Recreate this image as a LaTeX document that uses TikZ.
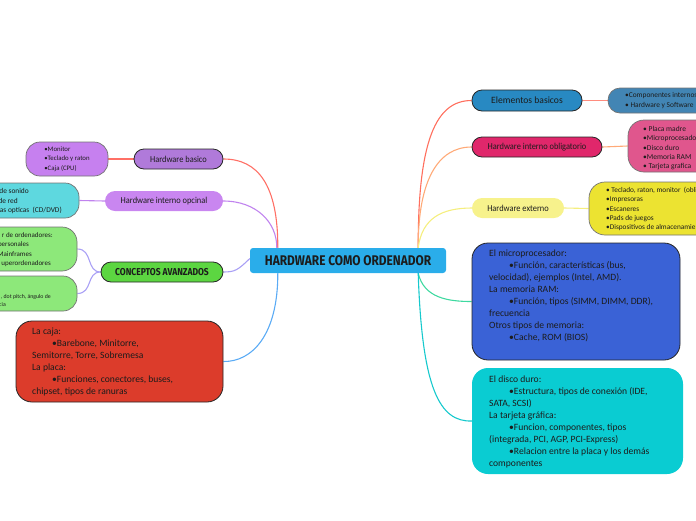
\documentclass[tikz,border=0pt]{standalone}
\usepackage{fontspec}
\setmainfont{Carlito}
\newfontfamily\headfont[FakeStretch=0.85]{Fira Sans}
\newfontfamily\labfont[FakeStretch=0.92]{Carlito}
\usetikzlibrary{backgrounds}
\definecolor{cRoot}{HTML}{2AADEA}
\definecolor{cHwb}{HTML}{B07ADA}
\definecolor{cHwbc}{HTML}{C680EF}
\definecolor{cHwo}{HTML}{C986F0}
\definecolor{cHwoc}{HTML}{5ED8DF}
\definecolor{cConc}{HTML}{5CD641}
\definecolor{cConcc}{HTML}{8DE87A}
\definecolor{cCaja}{HTML}{DC3C2B}
\definecolor{cElem}{HTML}{2889C2}
\definecolor{cElemc}{HTML}{4285B4}
\definecolor{cHio}{HTML}{E0276B}
\definecolor{cHioc}{HTML}{E0568D}
\definecolor{cHext}{HTML}{F7F28C}
\definecolor{cHextc}{HTML}{ECE331}
\definecolor{cMicro}{HTML}{3A62D6}
\definecolor{cDisco}{HTML}{0ACCD2}
\definecolor{lRed}{HTML}{FF7066}
\definecolor{lPurple}{HTML}{C083EE}
\definecolor{lLav}{HTML}{A9A0F5}
\definecolor{lBlue}{HTML}{5AABF5}
\definecolor{lRed2}{HTML}{FF6F5E}
\definecolor{lOrange}{HTML}{FFAA78}
\definecolor{lYellow}{HTML}{F5EE7E}
\definecolor{lGreen}{HTML}{3ED9A0}
\definecolor{lTeal}{HTML}{16C9CD}
\definecolor{txt}{HTML}{1C1C1C}
\begin{document}
\begin{tikzpicture}[x=1pt,y=-1pt,
  pill/.style={rectangle, rounded corners=10pt, minimum height=20pt, inner sep=0pt,
    text=txt, font=\labfont\fontsize{9.1}{10}\selectfont},
  hard/.style={draw=black!85, line width=0.8pt},
  soft/.style={draw=black!55, line width=0.7pt},
  subbox/.style={rectangle, rounded corners=14pt, inner sep=0pt},
  bigbox/.style={rectangle, rounded corners=16pt, inner sep=0pt},
  small/.style={inner sep=0pt, text=txt, align=left, font=\fontsize{6.8}{9.5}\selectfont},
  frag/.style={inner sep=0pt, text=txt, anchor=base east},
  bigtext/.style={inner sep=0pt, text=txt, align=left, anchor=north west, font=\fontsize{9.6}{12}\selectfont},
  link/.style={line width=1.1pt}]
\useasboundingbox (0,0) rectangle (696,520);

% root
\node[rectangle, rounded corners=3pt, fill=cRoot, minimum width=196pt, minimum height=25pt, inner sep=0pt,
  font=\headfont\bfseries\fontsize{14}{16}\selectfont, text=txt] (root) at (348,260.5) {HARDWARE COMO ORDENADOR};

% left side
\node[pill, hard, fill=cHwb, minimum width=89pt] (hwb) at (178.5,159) {Hardware basico};
\node[subbox, soft, fill=cHwbc, minimum width=82pt, minimum height=34pt, small] (hwbc) at (67,159)
  {•Monitor\\•Teclado y raton\\•Caja (CPU)};
\node[pill, fill=cHwo, minimum width=118pt] (hwo) at (164,201) {Hardware interno opcinal};
\node[subbox, soft, fill=cHwoc, minimum width=119pt, minimum height=35pt] (hwoc) at (19.5,200.5) {};
\node[frag, font=\fontsize{7.4}{8}\selectfont] (hwoc1) at (29,193.5) {de sonido};
\node[frag, font=\fontsize{7.4}{8}\selectfont] (hwoc2) at (18,203) {de red};
\node[frag, font=\fontsize{7.4}{8}\selectfont] (hwoc3) at (62,212.5) {as opticas\ \ (CD/DVD)};

\node[pill, hard, fill=cConc, minimum width=122pt, font=\headfont\bfseries\fontsize{10}{11}\selectfont] (conc) at (162,272) {CONCEPTOS AVANZADOS};
\node[subbox, soft, fill=cConcc, minimum width=117pt, minimum height=44pt, rounded corners=15pt] (conc1) at (18.5,249) {};
\node[frag, font=\fontsize{7}{8}\selectfont] (conc1a) at (53,237) {r de ordenadores:};
\node[frag, font=\fontsize{7}{8}\selectfont] (conc1b) at (29,246.5) {personales};
\node[frag, font=\fontsize{7}{8}\selectfont] (conc1c) at (32,256) {Mainframes};
\node[frag, font=\fontsize{7}{8}\selectfont] (conc1d) at (51,265.5) {uperordenadores};
\node[subbox, soft, fill=cConcc, minimum width=117pt, minimum height=35pt] (conc2) at (18.5,293.5) {};
\node[frag, font=\fontsize{5.8}{7}\selectfont] (conc2a) at (51,298.5) {, dot pitch, ángulo de};
\node[frag, font=\fontsize{5.8}{7}\selectfont] (conc2b) at (6,306) {cia};

\node[bigbox, hard, fill=cCaja, minimum width=207pt, minimum height=81pt] (caja) at (119.5,361.5) {};
\node[bigtext] (cajat) at (32,327.5) {La caja:\\
\hspace*{20pt}•Barebone, Minitorre,\\
Semitorre, Torre, Sobremesa\\
La placa:\\
\hspace*{20pt}•Funciones, conectores, buses,\\
chipset, tipos de ranuras};

% right side
\node[pill, hard, fill=cElem, minimum width=110pt, minimum height=21pt, font=\fontsize{9.6}{11}\selectfont] (elem) at (527,100.5) {Elementos basicos};
\node[subbox, soft, fill=cElemc, minimum width=132pt, minimum height=25pt, rounded corners=12pt] (elemc) at (674,100.5) {};
\node[small, anchor=north west, font=\fontsize{7.4}{9.5}\selectfont] (elemt) at (625,92.3) {•Componentes internos\\• Hardware y Software};

\node[pill, hard, fill=cHio, minimum width=130pt] (hio) at (537,147) {Hardware interno obligatorio};
\node[bigbox, soft, fill=cHioc, minimum width=132pt, minimum height=52pt] (hioc) at (694,146) {};
\node[small, anchor=north west, font=\fontsize{7.5}{9.4}\selectfont] (hioct) at (643,125.8) {• Placa madre\\•Microprocesador\\•Disco duro\\•Memoria RAM\\• Tarjeta grafica};

\node[pill, fill=cHext, minimum width=92pt] (hext) at (518,208) {Hardware externo};
\node[bigbox, soft, fill=cHextc, minimum width=151pt, minimum height=53pt] (hextc) at (664.5,208.5) {};
\node[small, anchor=north west, font=\fontsize{7.3}{9.3}\selectfont] (hextct) at (606,187) {• Teclado, raton, monitor\ \ (obligatorio)\\•Impresoras\\•Escaneres\\•Pads de juegos\\•Dispositivos de almacenamiento};

\node[bigbox, hard, fill=cMicro, minimum width=208pt, minimum height=117pt] (micro) at (576,301.5) {};
\node[bigtext] (microt) at (489,250) {El microprocesador:\\
\hspace*{20pt}•Función, características (bus,\\
velocidad), ejemplos (Intel, AMD).\\
La memoria RAM:\\
\hspace*{20pt}•Función, tipos (SIMM, DIMM, DDR),\\
frecuencia\\
Otros tipos de memoria:\\
\hspace*{20pt}•Cache, ROM (BIOS)};

\node[bigbox, fill=cDisco, minimum width=211pt, minimum height=106pt] (disco) at (577.5,421) {};
\node[bigtext] (discot) at (489,375.5) {El disco duro:\\
\hspace*{20pt}•Estructura, tipos de conexión (IDE,\\
SATA, SCSI)\\
La tarjeta gráfica:\\
\hspace*{20pt}•Funcion, componentes, tipos\\
(integrada, PCI, AGP, PCI-Express)\\
\hspace*{20pt}•Relacion entre la placa y los demás\\
componentes};

% connectors
\begin{scope}[on background layer]
\draw[link, lRed] ([xshift=28pt]root.north west) .. controls (278,185) and (258,159) .. (hwb.east);
\draw[link, lPurple] ([xshift=27pt]root.north west) .. controls (277,222) and (256,201) .. (hwo.east);
\draw[link, lLav] ([yshift=2pt]root.west) .. controls (238,270) and (235,272) .. (conc.east);
\draw[link, lBlue] ([xshift=28pt]root.south west) .. controls (278,335) and (252,362) .. (caja.east);
\draw[link, lRed] (hwbc.east) -- (hwb.west);
\draw[link, lPurple] (hwoc.east) -- (hwo.west);
\draw[link, lLav] (conc.west) .. controls (86,272) and (93,249) .. (conc1.east);
\draw[link, lLav] (conc.west) .. controls (86,272) and (93,293.5) .. (conc2.east);

\draw[link, lRed2] ([xshift=-28pt]root.north east) .. controls (418,140) and (436,100.5) .. (elem.west);
\draw[link, lOrange] ([xshift=-28pt]root.north east) .. controls (418,180) and (438,147) .. (hio.west);
\draw[link, lYellow] ([xshift=-28pt]root.north east) .. controls (422,218) and (442,208) .. (hext.west);
\draw[link, lGreen] ([xshift=-28pt]root.south east) .. controls (424,298) and (448,301.5) .. (micro.west);
\draw[link, lTeal] ([xshift=-28pt]root.south east) .. controls (422,390) and (440,422) .. (disco.west);
\draw[link, lRed2!80!white] (elem.east) -- (elemc.west);
\draw[link, lOrange] (hio.east) -- (hioc.west);
\draw[link, lYellow] (hext.east) -- (hextc.west);
\end{scope}
\end{tikzpicture}
\end{document}
